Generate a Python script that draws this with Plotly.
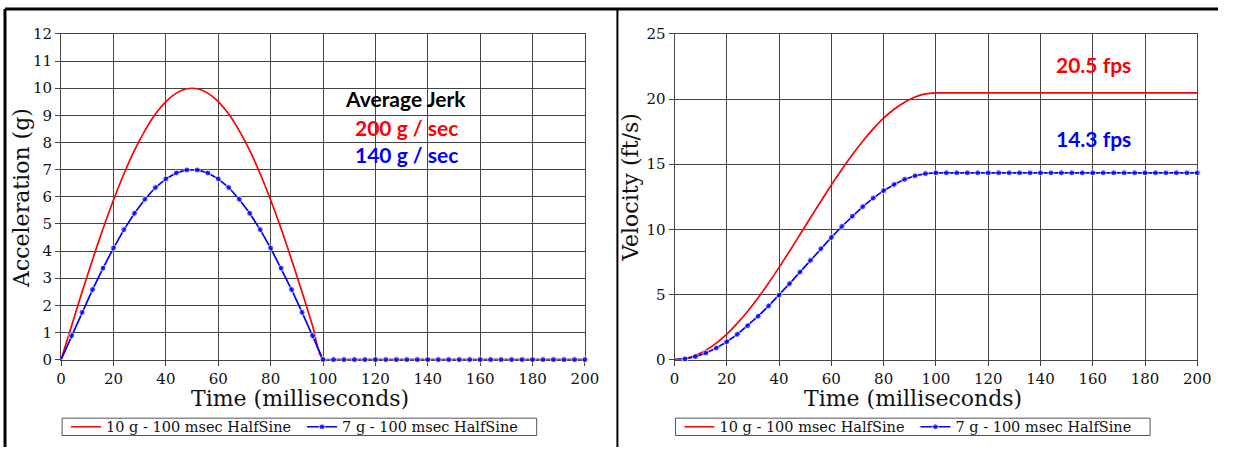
import plotly.graph_objects as go

# ---------------- data ----------------
time_ms = [0, 4, 8, 12, 16, 20, 24, 28, 32, 36, 40, 44, 48, 52, 56, 60, 64, 68, 72, 76,
           80, 84, 88, 92, 96, 100, 104, 108, 112, 116, 120, 124, 128, 132, 136, 140,
           144, 148, 152, 156, 160, 164, 168, 172, 176, 180, 184, 188, 192, 196, 200]

accel_10g = [0, 1.25, 2.49, 3.68, 4.82, 5.88, 6.85, 7.71, 8.44, 9.05, 9.51, 9.82, 9.98,
             9.98, 9.82, 9.51, 9.05, 8.44, 7.71, 6.85, 5.88, 4.82, 3.68, 2.49, 1.25, 0,
             0, 0, 0, 0, 0, 0, 0, 0, 0, 0, 0, 0, 0, 0, 0, 0, 0, 0, 0, 0, 0, 0, 0, 0, 0]

accel_7g = [0, 0.88, 1.74, 2.58, 3.37, 4.11, 4.79, 5.39, 5.91, 6.34, 6.66, 6.88, 6.99,
            6.99, 6.88, 6.66, 6.34, 5.91, 5.39, 4.79, 4.11, 3.37, 2.58, 1.74, 0.88, 0,
            0, 0, 0, 0, 0, 0, 0, 0, 0, 0, 0, 0, 0, 0, 0, 0, 0, 0, 0, 0, 0, 0, 0, 0, 0]

vel_10g = [0, 0.08, 0.32, 0.72, 1.27, 1.96, 2.78, 3.71, 4.75, 5.88, 7.08, 8.32, 9.60,
           10.89, 12.16, 13.41, 14.60, 15.73, 16.77, 17.71, 18.53, 19.22, 19.76, 20.16,
           20.40, 20.48, 20.48, 20.48, 20.48, 20.48, 20.48, 20.48, 20.48, 20.48, 20.48,
           20.48, 20.48, 20.48, 20.48, 20.48, 20.48, 20.48, 20.48, 20.48, 20.48, 20.48,
           20.48, 20.48, 20.48, 20.48, 20.48]

vel_7g = [0, 0.06, 0.23, 0.50, 0.89, 1.37, 1.94, 2.60, 3.33, 4.12, 4.95, 5.83, 6.72,
          7.62, 8.51, 9.38, 10.22, 11.01, 11.74, 12.40, 12.97, 13.45, 13.84, 14.11,
          14.28, 14.34, 14.34, 14.34, 14.34, 14.34, 14.34, 14.34, 14.34, 14.34, 14.34,
          14.34, 14.34, 14.34, 14.34, 14.34, 14.34, 14.34, 14.34, 14.34, 14.34, 14.34,
          14.34, 14.34, 14.34, 14.34, 14.34]

series_names = ["10 g - 100 msec HalfSine", "7 g - 100 msec HalfSine"]
x_ticks = [0, 20, 40, 60, 80, 100, 120, 140, 160, 180, 200]
acc_ticks = [0, 1, 2, 3, 4, 5, 6, 7, 8, 9, 10, 11, 12]
vel_ticks = [0, 5, 10, 15, 20, 25]

jerk_title = "Average Jerk"
jerk_10g = "200 g / sec"
jerk_7g = "140 g / sec"
vel_label_10g = "20.5 fps"
vel_label_7g = "14.3 fps"
x_title = "Time (milliseconds)"
acc_title = "Acceleration (g)"
vel_title = "Velocity (ft/s)"

# ---------------- styling ----------------
RED = "#ff0000"
BLUE = "#0000ff"
GRID = "#444444"
SERIF = "DejaVu Serif"
SANS = "Lato"

# The page keeps the browser's 8px body margin, so the figure is 16px smaller
# than the window and reference pixel positions are shifted by 8.
OFF = 8
W, H = 1248 - 2 * OFF, 472 - 2 * OFF


def px(x):
    return (x - OFF) / W


def py(y):
    return 1 - (y - OFF) / H


marker_sizes = [0] + [6] * (len(time_ms) - 1)

fig = go.Figure()

fig.add_trace(go.Scatter(x=time_ms, y=accel_10g, mode="lines", name=series_names[0],
                         line=dict(color=RED, width=1.7, shape="spline"),
                         xaxis="x", yaxis="y", legend="legend", cliponaxis=False))
fig.add_trace(go.Scatter(x=time_ms, y=accel_7g, mode="lines+markers", name=series_names[1],
                         line=dict(color=BLUE, width=1.7),
                         marker=dict(color=BLUE, size=marker_sizes, symbol="circle"),
                         xaxis="x", yaxis="y", legend="legend", cliponaxis=False))
fig.add_trace(go.Scatter(x=time_ms, y=vel_10g, mode="lines", name=series_names[0],
                         line=dict(color=RED, width=1.7, shape="spline"),
                         xaxis="x2", yaxis="y2", legend="legend2", cliponaxis=False))
fig.add_trace(go.Scatter(x=time_ms, y=vel_7g, mode="lines+markers", name=series_names[1],
                         line=dict(color=BLUE, width=1.7),
                         marker=dict(color=BLUE, size=marker_sizes, symbol="circle"),
                         xaxis="x2", yaxis="y2", legend="legend2", cliponaxis=False))

ydom = [py(373), py(34)]

axis_common = dict(showgrid=True, gridcolor=GRID, gridwidth=1, showline=True,
                   linecolor=GRID, linewidth=1, mirror=True, ticks="outside",
                   ticklen=5, tickcolor=GRID, zeroline=False, layer="below traces",
                   tickfont=dict(family=SERIF, size=15, color="#111111"),
                   fixedrange=True)

legend_common = dict(orientation="h", xanchor="left", yanchor="middle",
                     borderwidth=0, bgcolor="rgba(0,0,0,0)",
                     font=dict(family=SERIF, size=14.5, color="#111111"),
                     itemwidth=30, tracegroupgap=0, entrywidth=191)

fig.update_layout(
    width=W, height=H,
    margin=dict(l=0, r=0, t=0, b=0),
    paper_bgcolor="white", plot_bgcolor="white",
    xaxis=dict(domain=[px(65), px(597)], range=[0, 200], tickvals=x_ticks,
               anchor="y", **axis_common),
    yaxis=dict(domain=ydom, range=[0, 12], tickvals=acc_ticks, anchor="x", **axis_common),
    xaxis2=dict(domain=[px(688), px(1219)], range=[0, 200], tickvals=x_ticks,
                anchor="y2", **axis_common),
    yaxis2=dict(domain=ydom, range=[0, 25], tickvals=vel_ticks, anchor="x2", **axis_common),
    legend=dict(x=px(70), y=py(443), **legend_common),
    legend2=dict(x=px(693), y=py(443), **legend_common),
    showlegend=True,
)

shapes = [
    # outer frame and divider
    dict(type="line", xref="paper", yref="paper", x0=0, x1=1, y0=1, y1=1,
         line=dict(color="black", width=3)),
    dict(type="line", xref="paper", yref="paper", x0=0, x1=0, y0=0, y1=1,
         line=dict(color="black", width=3)),
    dict(type="line", xref="paper", yref="paper", x0=px(630), x1=px(630), y0=0, y1=1,
         line=dict(color="black", width=2)),
    # legend frames
    dict(type="rect", xref="paper", yref="paper", x0=px(66), x1=px(548),
         y0=py(452), y1=py(434), line=dict(color="#555555", width=1)),
    dict(type="rect", xref="paper", yref="paper", x0=px(689), x1=px(1171),
         y0=py(452), y1=py(434), line=dict(color="#555555", width=1)),
    # white boxes behind the text notes
    dict(type="rect", xref="paper", yref="paper", x0=px(340), x1=px(493),
         y0=py(178), y1=py(82), fillcolor="white", line=dict(width=0), layer="between"),
    dict(type="rect", xref="paper", yref="paper", x0=px(1070), x1=px(1158),
         y0=py(86), y1=py(44), fillcolor="white", line=dict(width=0), layer="between"),
    dict(type="rect", xref="paper", yref="paper", x0=px(1070), x1=px(1158),
         y0=py(163), y1=py(122), fillcolor="white", line=dict(width=0), layer="between"),
]
fig.update_layout(shapes=shapes)


def note(text, x, y, color, size=21, family=SANS, bold=True, angle=0):
    t = f"<b>{text}</b>" if bold else text
    return dict(text=t, xref="paper", yref="paper", x=px(x), y=py(y),
                xanchor="center", yanchor="middle", showarrow=False, textangle=angle,
                font=dict(family=family, size=size, color=color))


annotations = [
    note(jerk_title, 415, 101, "black"),
    note(jerk_10g, 416, 131, RED),
    note(jerk_7g, 416, 160, BLUE),
    note(vel_label_10g, 1114, 66, RED),
    note(vel_label_7g, 1114, 143, BLUE),
    note(x_title, 308, 413, "#111111", size=22, family=SERIF, bold=False),
    note(x_title, 930, 413, "#111111", size=22, family=SERIF, bold=False),
    note(acc_title, 24, 205, "#111111", size=22, family=SERIF, bold=False, angle=-90),
    note(vel_title, 643, 194, "#111111", size=22, family=SERIF, bold=False, angle=-90),
]
fig.update_layout(annotations=annotations)

fig.write_html("out.html")
